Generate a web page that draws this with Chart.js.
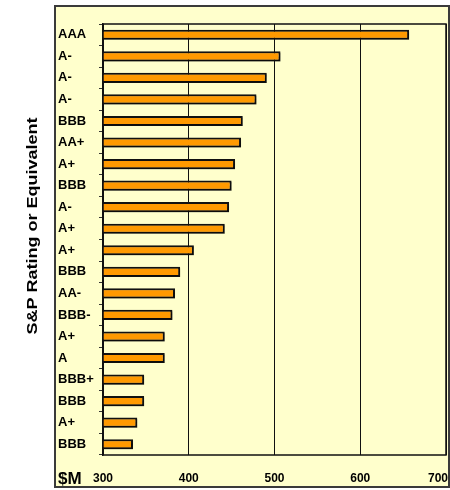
<!DOCTYPE html>
<html>
<head>
<meta charset="utf-8">
<script src="https://cdn.jsdelivr.net/npm/chart.js@4/dist/chart.umd.min.js"></script>
<style>
  html, body { margin: 0; padding: 0; background: #ffffff; }
  #wrap { width: 450px; height: 490px; position: relative; }
</style>
</head>
<body>
<div id="wrap"><canvas id="c" width="450" height="490"></canvas></div>
<script>
// Credit ratings (top to bottom) and amounts in $M
const ratings = ['AAA', 'A-', 'A-', 'A-', 'BBB', 'AA+', 'A+', 'BBB', 'A-', 'A+',
                 'A+', 'BBB', 'AA-', 'BBB-', 'A+', 'A', 'BBB+', 'BBB', 'A+', 'BBB'];
const amounts = [657, 507, 491, 479, 463, 461, 454, 450, 447, 442,
                 406, 390, 384, 381, 372, 372, 348, 348, 340, 335];
const xTicks = [300, 400, 500, 600, 700];
const axisTitle = 'S&P Rating or Equivalent';
const unitLabel = '$M';

const FONT = '"Liberation Sans", Arial, Helvetica, sans-serif';

// Panel background, frame, axis title, x tick labels and unit label
const decor = {
  id: 'decor',
  beforeDraw(chart) {
    const ctx = chart.ctx;
    ctx.save();
    ctx.fillStyle = '#ffffff';
    ctx.fillRect(0, 0, chart.width, chart.height);
    ctx.fillStyle = '#FFFFCC';
    ctx.fillRect(54, 5, 396, 483);
    ctx.strokeStyle = '#3a3a3a';
    ctx.lineWidth = 2;
    ctx.strokeRect(55, 6, 394, 481);
    ctx.restore();
  },
  afterDraw(chart) {
    const ctx = chart.ctx;
    const a = chart.chartArea;
    ctx.save();
    // plot border
    ctx.strokeStyle = '#111';
    ctx.lineWidth = 1.5;
    ctx.strokeRect(a.left, a.top, a.right - a.left, a.bottom - a.top);
    // rotated axis title
    ctx.fillStyle = '#000';
    ctx.font = 'bold 14px ' + FONT;
    const w = ctx.measureText(axisTitle).width;
    ctx.translate(33, 226);
    ctx.rotate(-Math.PI / 2);
    ctx.scale(217 / w, 1);
    ctx.textAlign = 'center';
    ctx.textBaseline = 'middle';
    ctx.fillText(axisTitle, 0, 0);
    ctx.restore();

    // x tick labels, kept inside the frame
    const xs = chart.scales.x;
    ctx.save();
    ctx.fillStyle = '#000';
    ctx.font = 'bold 12px ' + FONT;
    ctx.textBaseline = 'middle';
    ctx.textAlign = 'left';
    xTicks.forEach(v => {
      const label = String(v);
      const tw = ctx.measureText(label).width;
      let x = xs.getPixelForValue(v) - tw / 2;
      x = Math.min(x, 448 - tw);
      ctx.fillText(label, x, 479);
    });
    ctx.restore();

    // unit label
    ctx.save();
    ctx.fillStyle = '#000';
    ctx.font = 'bold 17px ' + FONT;
    ctx.textAlign = 'left';
    ctx.textBaseline = 'alphabetic';
    ctx.fillText(unitLabel, 58, 484);
    ctx.restore();
  },
  beforeDatasetsDraw(chart) {
    const ctx = chart.ctx;
    ctx.save();
    ctx.shadowColor = 'rgba(0,0,0,0.35)';
    ctx.shadowOffsetX = 1.5;
    ctx.shadowOffsetY = 1.5;
    ctx.shadowBlur = 1;
  },
  afterDatasetsDraw(chart) {
    chart.ctx.restore();
  }
};

new Chart(document.getElementById('c'), {
  type: 'bar',
  data: {
    labels: ratings,
    datasets: [{
      data: amounts,
      backgroundColor: '#FF9900',
      borderColor: '#111111',
      borderWidth: 2,
      borderSkipped: false,
      categoryPercentage: 1,
      barPercentage: 0.47
    }]
  },
  options: {
    indexAxis: 'y',
    responsive: false,
    animation: false,
    devicePixelRatio: 1,
    layout: { padding: { left: 58, right: 4, top: 24, bottom: 0 } },
    plugins: {
      legend: { display: false },
      tooltip: { enabled: false }
    },
    scales: {
      x: {
        type: 'linear',
        min: xTicks[0],
        max: xTicks[xTicks.length - 1],
        afterBuildTicks(scale) { scale.ticks = xTicks.map(v => ({ value: v })); },
        afterFit(scale) {
          scale.height = 35;
          scale.paddingLeft = 0;
          scale.paddingRight = 0;
        },
        grid: { color: '#111', lineWidth: 1, drawTicks: false },
        border: { display: false },
        ticks: { display: false }
      },
      y: {
        afterFit(scale) {
          scale.width = 45;
          scale.paddingTop = 0;
          scale.paddingBottom = 0;
        },
        grid: { drawOnChartArea: false, drawTicks: true, tickLength: 4, color: '#333', offset: true },
        border: { display: true, color: '#111', width: 1.5 },
        ticks: {
          crossAlign: 'far',
          padding: 0,
          color: '#000',
          autoSkip: false,
          font: { family: FONT, size: 13, weight: 'bold' }
        }
      }
    }
  },
  plugins: [decor]
});
</script>
</body>
</html>
